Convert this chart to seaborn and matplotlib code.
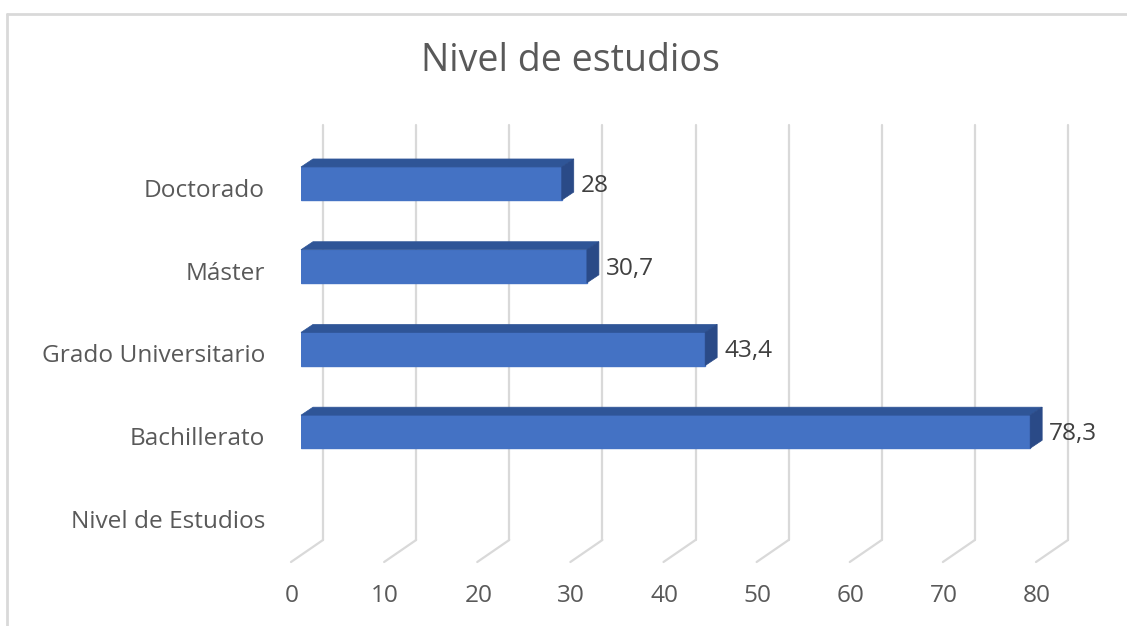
import matplotlib
matplotlib.use("Agg")
import matplotlib.pyplot as plt
from matplotlib.transforms import Affine2D, IdentityTransform
from matplotlib.patches import Polygon
from matplotlib.lines import Line2D
import seaborn as sns
import pandas as pd

# Data
categories = ["Doctorado", "Máster", "Grado Universitario", "Bachillerato"]
values = [28, 30.7, 43.4, 78.3]
axis_categories = ["Doctorado", "Máster", "Grado Universitario", "Bachillerato", "Nivel de Estudios"]
x_ticks = [0, 10, 20, 30, 40, 50, 60, 70, 80]
title = "Nivel de estudios"

sns.set_theme(style="white")
plt.rcParams["font.family"] = ["Open Sans", "DejaVu Sans"]

DPI = 100
W, H = 1127, 626
fig = plt.figure(figsize=(W / DPI, H / DPI), dpi=DPI)

# Front plane of the 3D box (pixel geometry)
left_px, right_px, top_px, bot_px = 301, 1046, 140, 555
ax = fig.add_axes([left_px / W, 1 - bot_px / H, (right_px - left_px) / W, (bot_px - top_px) / H])

df = pd.DataFrame({"nivel": categories, "valor": values})
sns.barplot(data=df, x="valor", y="nivel", order=axis_categories, orient="h",
            width=0.4, color="#4472C4", saturation=1, ax=ax, zorder=3)

ax.set_xlim(0, 80)
ax.set_ylim(4.49, -0.526)
ax.set_axis_off()

GRID = "#d9d9d9"
TEXT = "#595959"
FRONT = "#4472C4"
TOP = "#2F5597"
SIDE = "#2A4A87"
FS = 17.6

# Depth offsets in display pixels (y up)
back = (22, 15)      # back wall relative to front plane
floor = (-10, -7)    # front floor edge relative to front plane
depth = (12, 8)      # bar depth

xtr = ax.get_xaxis_transform()


def shifted(tr, dx, dy):
    return tr + Affine2D().translate(dx, dy)


fig.canvas.draw()
for v in x_ticks:
    # back wall gridline
    ax.add_line(Line2D([v, v], [0, 1], transform=shifted(xtr, *back),
                       color=GRID, lw=1.6, clip_on=False, zorder=1))
    # floor diagonal
    bx, by = xtr.transform((v, 0))
    ax.add_line(Line2D([bx + back[0], bx + floor[0]], [by + back[1], by + floor[1]],
                       transform=IdentityTransform(), color=GRID, lw=1.6,
                       clip_on=False, zorder=1))
    ax.text(v, 0, str(v), transform=shifted(xtr, -9, -41), ha="center", va="center",
            fontsize=FS, color=TEXT)

# Top and side faces of each bar
for p in ax.patches:
    x0, y0 = p.get_x(), p.get_y()
    x1, y1 = x0 + p.get_width(), y0 + p.get_height()
    (L, B), (R, T) = ax.transData.transform([(x0, y1), (x1, y0)])
    dx, dy = depth
    top = Polygon([(L, T), (R, T), (R + dx, T + dy), (L + dx, T + dy)], closed=True,
                  transform=IdentityTransform(), facecolor=TOP, edgecolor=TOP,
                  lw=0.5, clip_on=False, zorder=3)
    side = Polygon([(R, T), (R + dx, T + dy), (R + dx, B + dy), (R, B)], closed=True,
                   transform=IdentityTransform(), facecolor=SIDE, edgecolor=SIDE,
                   lw=0.5, clip_on=False, zorder=3)
    ax.add_patch(top)
    ax.add_patch(side)
    p.set_edgecolor(FRONT)

# Value labels
for i, v in enumerate(values):
    lab = f"{v:g}".replace(".", ",")
    ax.text(v, i, lab, transform=shifted(ax.transData, depth[0] + 7, -2.5),
            ha="left", va="center", fontsize=FS, color="#404040", zorder=4)

# Category labels
for i, c in enumerate(axis_categories):
    ax.text(0, i, c, transform=shifted(ax.transData, -36, -7.5),
            ha="right", va="center", fontsize=FS, color=TEXT)

# Title
fig.text(570 / W, 1 - 71 / H, title, ha="center", va="baseline", fontsize=27, color=TEXT)

# Chart area border (top and left edges visible)
fig.add_artist(Line2D([6.5 / W, 6.5 / W], [0, 1 - 14 / H], transform=fig.transFigure,
                      color=GRID, lw=2))
fig.add_artist(Line2D([6.5 / W, 1], [1 - 14 / H, 1 - 14 / H], transform=fig.transFigure,
                      color=GRID, lw=2))

fig.savefig("out.png", dpi=DPI, facecolor="white")
